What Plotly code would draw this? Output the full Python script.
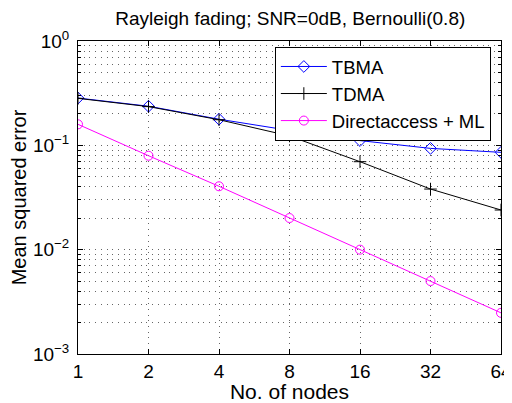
import plotly.graph_objects as go

nodes = [1, 2, 4, 8, 16, 32, 64]
tbma = [0.284, 0.237, 0.178, 0.139, 0.111, 0.0935, 0.0857]
tdma = [0.282, 0.235, 0.176, 0.123, 0.0697, 0.0381, 0.0240]
direct = [0.159, 0.0795, 0.0405, 0.0201, 0.0100, 0.0050, 0.00248]
ytick_vals = [1e-3, 1e-2, 1e-1, 1e0]
ytick_text = ["10<sup>\u22123</sup>", "10<sup>\u22122</sup>", "10<sup>\u22121</sup>", "10<sup>0</sup>"]
yminor = [m * 10.0 ** e for e in (-3, -2, -1) for m in range(2, 10)]

fig = go.Figure()
fig.add_trace(go.Scatter(x=nodes, y=tbma, name="TBMA", mode="lines+markers",
                         line=dict(color="#0000FF", width=1),
                         marker=dict(symbol="diamond-open", size=9, color="#0000FF", line=dict(width=1))))
fig.add_trace(go.Scatter(x=nodes, y=tdma, name="TDMA", mode="lines+markers",
                         line=dict(color="#000000", width=1),
                         marker=dict(symbol="cross-thin-open", size=9, color="#000000", line=dict(width=1, color="#000000"))))
fig.add_trace(go.Scatter(x=nodes, y=direct, name="Directaccess + ML", mode="lines+markers",
                         line=dict(color="#FF00FF", width=1),
                         marker=dict(symbol="circle-open", size=9, color="#FF00FF", line=dict(width=1))))

font_family = "Liberation Sans, Arial, sans-serif"
grid_dash = "1px,4.7px"
grid_color = "#666666"
# page body has an 8px margin: figure is drawn 8px right/down from the window corner
fig.update_layout(
    width=504, height=395,
    margin=dict(l=70, r=11, t=33, b=49),
    paper_bgcolor="white", plot_bgcolor="white",
    font=dict(family=font_family, color="black", size=18),
    title=dict(text="Rayleigh fading; SNR=0dB, Bernoulli(0.8)", x=0.56, xanchor="center",
               y=0.99, yanchor="top", font=dict(size=19)),
    legend=dict(x=0.976, xanchor="right", y=0.981, yanchor="top",
                bgcolor="white", bordercolor="black", borderwidth=1,
                font=dict(size=18.5), itemwidth=46, tracegroupgap=0),
    showlegend=True,
)
fig.update_xaxes(
    type="log", range=[0, 1.80618], automargin=False,
    tickvals=nodes, ticktext=[str(n) for n in nodes],
    ticks="inside", ticklen=5, tickcolor="black",
    showline=True, linecolor="black", linewidth=1, mirror="ticks",
    showgrid=True, gridcolor=grid_color, griddash=grid_dash, gridwidth=1,
    zeroline=False,
    title=dict(text="No. of nodes", font=dict(size=21), standoff=0),
    tickfont=dict(size=19),
)
fig.update_yaxes(
    type="log", range=[-3, 0], automargin=False,
    tickvals=ytick_vals, ticktext=ytick_text, ticklabelstandoff=4,
    ticks="inside", ticklen=5, tickcolor="black",
    showline=True, linecolor="black", linewidth=1, mirror="ticks",
    showgrid=True, gridcolor=grid_color, griddash=grid_dash, gridwidth=1,
    minor=dict(tickvals=yminor, ticks="inside", ticklen=3, tickcolor="black",
               showgrid=True, gridcolor=grid_color, griddash=grid_dash, gridwidth=1),
    zeroline=False,
    title=dict(text="Mean squared error", font=dict(size=20), standoff=0),
    tickfont=dict(size=19),
)
fig.write_html("out.html")
